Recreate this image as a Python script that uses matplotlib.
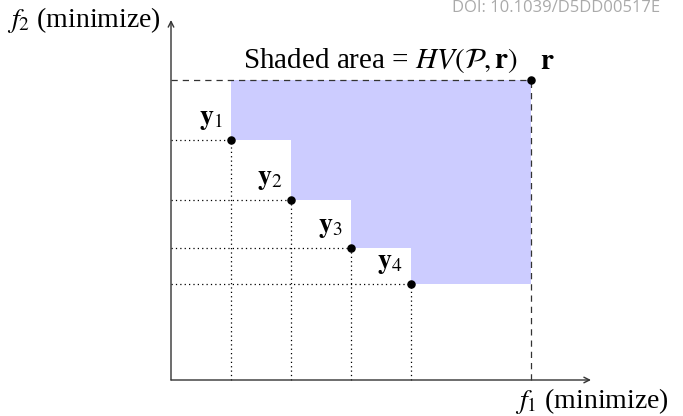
import matplotlib
matplotlib.use("Agg")
import matplotlib.pyplot as plt
from matplotlib.patches import Polygon

plt.rcParams['font.family'] = 'Liberation Serif'
plt.rcParams['mathtext.fontset'] = 'stix'

# Pareto front points and reference point
px = [1, 2, 3, 4]
py = [4, 3, 2.2, 1.6]
point_labels = [r'$\mathbf{y}_1$', r'$\mathbf{y}_2$', r'$\mathbf{y}_3$', r'$\mathbf{y}_4$']
ref = (6, 5)
x_axis_end = 7.0
y_axis_end = 6.0

fig = plt.figure(figsize=(6.83, 4.16), dpi=100)
ax = fig.add_axes([0, 0, 1, 1])
ax.set_xlim(-171 / 60, 512 / 60)
ax.set_ylim(-36 / 60, 380 / 60)
ax.axis('off')

# staircase shaded region
verts = [(px[0], ref[1])]
for i in range(len(px)):
    verts.append((px[i], py[i]))
    nx = px[i + 1] if i + 1 < len(px) else ref[0]
    verts.append((nx, py[i]))
verts.append((ref[0], ref[1]))
ax.add_patch(Polygon(verts, closed=True, facecolor='#ccccff', edgecolor='none', zorder=1))

# dotted guide lines
for x, y in zip(px, py):
    ax.plot([0, x], [y, y], color='black', ls=(0, (1, 2.5)), lw=0.9, zorder=2)
    ax.plot([x, x], [0, y], color='black', ls=(0, (1, 2.5)), lw=0.9, zorder=2)

# dashed lines to reference point
ax.plot([0, ref[0]], [ref[1], ref[1]], color='#333333', ls=(0, (5, 4)), lw=0.9, zorder=2)
ax.plot([ref[0], ref[0]], [0, ref[1]], color='#333333', ls=(0, (5, 4)), lw=0.9, zorder=2)

# axes arrows
ax.annotate('', xy=(x_axis_end, 0), xytext=(0, 0),
            arrowprops=dict(arrowstyle='->', color='#333333', lw=1.0, shrinkA=0, shrinkB=0))
ax.annotate('', xy=(0, y_axis_end), xytext=(0, 0),
            arrowprops=dict(arrowstyle='->', color='#333333', lw=1.0, shrinkA=0, shrinkB=0))

# points
ax.scatter(px, py, s=26, color='black', zorder=5)
ax.scatter([ref[0]], [ref[1]], s=26, color='black', zorder=5)

for x, y, lab in zip(px, py, point_labels):
    ax.annotate(lab, xy=(x, y), xytext=(-8, 20), textcoords='offset pixels',
                ha='right', va='center', fontsize=20)
ax.annotate(r'$\mathbf{r}$', xy=ref, xytext=(16, 18), textcoords='offset pixels',
            ha='center', va='center', fontsize=21)

ax.text(3.5, 5.33, r'Shaded area = $HV(\mathcal{P}, \mathbf{r})$', ha='center', va='center', fontsize=21)
ax.text(-0.18, 6.0, r'$f_2$ (minimize)', ha='right', va='center', fontsize=20)
ax.text(7.02, -0.35, r'$f_1$ (minimize)', ha='center', va='center', fontsize=20)

# watermark at top
fig.text(0.966, 1.0, 'DOI: 10.1039/D5DD00517E', ha='right', va='top',
         fontsize=12, color='#aaaaaa', family='Open Sans')

fig.savefig('out.png', dpi=100)
